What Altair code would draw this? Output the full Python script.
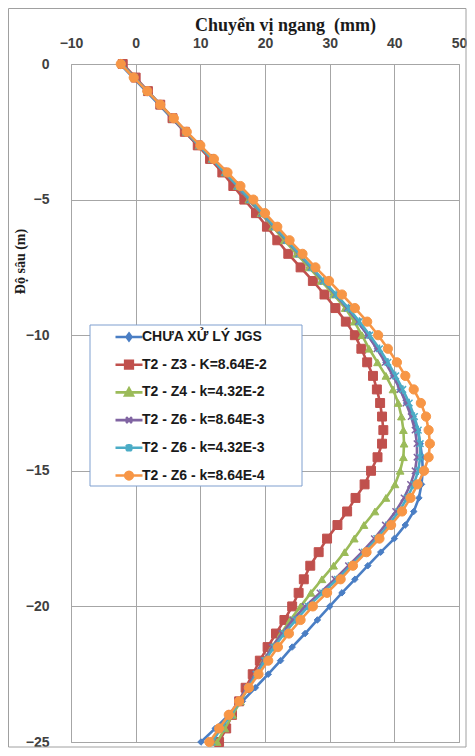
import altair as alt
import pandas as pd

# ---------------- data ----------------
depth = [0, -0.5, -1, -1.5, -2, -2.5, -3, -3.5, -4, -4.5, -5, -5.5, -6, -6.5, -7, -7.5,
         -8, -8.5, -9, -9.5, -10, -10.5, -11, -11.5, -12, -12.5, -13, -13.5, -14, -14.5,
         -15, -15.5, -16, -16.5, -17, -17.5, -18, -18.5, -19, -19.5, -20, -20.5, -21,
         -21.5, -22, -22.5, -23, -23.5, -24, -24.5, -25]

names = ["CHƯA XỬ LÝ JGS", "T2 - Z3 - K=8.64E-2", "T2 - Z4 - k=4.32E-2",
         "T2 - Z6 - k=8.64E-3", "T2 - Z6 - k=4.32E-3", "T2 - Z6 - k=8.64E-4"]

blue = [-2.4, -0.4, 1.6, 3.6, 5.6, 7.6, 9.6, 11.6, 13.6, 15.5, 17.4, 19.3, 21.2, 23.1, 25.0, 26.9,
        28.8, 30.7, 32.6, 34.3, 35.9, 37.4, 38.7, 39.9, 40.9, 41.9, 42.9, 43.6, 44.0, 44.3,
        44.4, 44.2, 43.8, 43.0, 41.7, 40.0, 37.9, 35.9, 33.9, 31.9, 30.0, 28.1, 26.2,
        24.2, 22.4, 20.5, 18.5, 16.5, 14.4, 12.3, 10.1]
red = [-2.0, 0.0, 1.9, 3.8, 5.7, 7.6, 9.6, 11.5, 13.4, 15.1, 16.8, 18.6, 20.3, 21.9, 23.6, 25.5,
       27.4, 29.2, 30.9, 32.5, 33.9, 34.9, 35.8, 36.7, 37.3, 37.8, 38.1, 38.3, 38.1, 37.4,
       36.4, 35.4, 34.0, 32.7, 31.2, 29.6, 28.3, 27.0, 26.0, 25.2, 24.2, 23.0, 21.7,
       20.4, 19.2, 18.1, 17.0, 16.0, 14.9, 14.0, 12.9]
green = [-2.2, -0.2, 1.8, 3.8, 5.8, 7.8, 9.8, 11.8, 13.8, 15.7, 17.5, 19.4, 21.2, 23.0, 24.9, 26.8,
         28.7, 30.6, 32.4, 33.8, 35.0, 36.1, 37.4, 38.7, 39.8, 40.6, 41.1, 41.4, 41.5, 41.4,
         40.9, 40.1, 38.7, 37.0, 35.3, 33.8, 32.3, 30.6, 28.8, 27.1, 25.5, 23.9, 22.5,
         21.1, 19.8, 18.6, 17.4, 16.2, 15.0, 13.8, 12.6]
purple = [-2.2, -0.2, 1.8, 3.8, 5.8, 7.8, 9.8, 11.8, 13.8, 15.7, 17.6, 19.5, 21.4, 23.3, 25.2, 27.1,
          29.0, 30.9, 32.7, 34.4, 35.9, 37.3, 38.6, 39.8, 40.9, 41.8, 42.6, 43.2, 43.5, 43.5,
          43.2, 42.5, 41.5, 40.2, 38.6, 36.9, 35.0, 32.9, 30.8, 28.5, 26.2, 24.3, 22.6,
          21.1, 19.8, 18.5, 17.2, 15.9, 14.5, 13.0, 11.6]
cyan = [-2.2, -0.2, 1.8, 3.8, 5.8, 7.8, 9.8, 11.8, 13.8, 15.8, 17.7, 19.6, 21.5, 23.4, 25.3, 27.2,
        29.1, 31.0, 32.9, 34.6, 36.2, 37.7, 39.0, 40.2, 41.3, 42.3, 43.1, 43.7, 44.0, 44.0,
        43.7, 43.0, 42.0, 40.7, 39.1, 37.3, 35.4, 33.3, 31.2, 28.9, 26.7, 24.8, 23.0,
        21.4, 20.0, 18.7, 17.4, 16.1, 14.7, 13.2, 11.8]
orange = [-2.3, -0.3, 1.8, 3.8, 5.9, 7.9, 10.0, 12.1, 14.2, 16.2, 18.2, 20.0, 21.9, 23.8, 25.8, 27.8,
          29.9, 31.9, 33.9, 35.8, 37.5, 39.0, 40.4, 41.7, 43.0, 44.1, 44.9, 45.3, 45.5, 45.3,
          44.6, 43.6, 42.5, 41.2, 39.5, 37.7, 35.7, 33.6, 31.7, 29.6, 27.4, 25.5, 23.7,
          22.0, 20.5, 19.0, 17.5, 16.0, 14.4, 12.9, 11.4]

series_values = [blue, red, green, purple, cyan, orange]

x_ticks = [-10, 0, 10, 20, 30, 40, 50]
y_ticks = [0, -5, -10, -15, -20, -25]

# ---------------- styles ----------------
colors = ["#4A7EC4", "#C0504D", "#9BBB59", "#8064A2", "#4BACC6", "#F79646"]
marker_shapes = ["diamond", "square", "triangle-up",
                 "M-1,-1L1,1M-1,1L1,-1",
                 "M-1,-1L1,1M-1,1L1,-1M0,-1.3L0,1.3",
                 "circle"]
marker_sizes = [42, 80, 60, 40, 44, 85]
marker_filled = [True, True, True, False, False, True]
legend_paths = [
    "M-3,0L3,0M0,-0.75L0.55,0L0,0.75L-0.55,0Z",
    "M-3,0L3,0M-0.85,-0.85L0.85,-0.85L0.85,0.85L-0.85,0.85Z",
    "M-3,0L3,0M0,-0.9L0.85,0.65L-0.85,0.65Z",
    "M-3,0L3,0M-0.65,-0.65L0.65,0.65M-0.65,0.65L0.65,-0.65",
    "M-3,0L3,0M-0.65,-0.65L0.65,0.65M-0.65,0.65L0.65,-0.65M0,-0.85L0,0.85",
    "M-3,0L3,0M0.85,0A0.85,0.85,0,1,1,-0.85,0A0.85,0.85,0,1,1,0.85,0Z",
]

rows = []
for name, vals in zip(names, series_values):
    for i, (d, v) in enumerate(zip(depth, vals)):
        rows.append({"series": name, "i": i, "depth": d, "disp": v})
df = pd.DataFrame(rows)

label_font = "Liberation Sans"
title_font = "Liberation Serif"

x_enc = alt.X(
    "disp:Q",
    scale=alt.Scale(domain=[-10, 50], nice=False, zero=False),
    axis=alt.Axis(
        orient="top", values=x_ticks, title="Chuyển vị ngang\u00a0 (mm)",
        titleFont=title_font, titleFontSize=18, titleFontWeight="bold", titleColor="#1a1a1a",
        titleX=214, titleY=-39, titleBaseline="middle", titleAlign="center",
        labelFont=label_font, labelFontSize=14, labelFontWeight="bold", labelColor="#404040",
        labelPadding=14, labelFlush=False, labelOverlap=False, ticks=False, domain=False,
        grid=True, gridColor="#A6A6A6", gridWidth=1,
    ),
)
y_enc = alt.Y(
    "depth:Q",
    scale=alt.Scale(domain=[-25, 0], nice=False, zero=False),
    axis=alt.Axis(
        values=y_ticks, title="Độ sâu (m)",
        titleFont=title_font, titleFontSize=14, titleFontWeight="bold", titleColor="#1a1a1a",
        titleX=-51, titleY=197, titleBaseline="middle", titleAlign="center", titleAngle=270,
        labelFont=label_font, labelFontSize=14, labelFontWeight="bold", labelColor="#404040",
        labelPadding=22, labelOverlap=False, ticks=False, domain=False,
        grid=True, gridColor="#A6A6A6", gridWidth=1,
    ),
)

base = alt.Chart(df)
one = alt.Data(values=[{}])

frame = alt.Chart(one).mark_rect(fillOpacity=0, stroke="#A0A0A0", strokeWidth=1, clip=False).encode(
    x=alt.value(-62.5), x2=alt.value(395), y=alt.value(-55.5), y2=alt.value(683)
)

layers = [frame]
for k, name in enumerate(names):
    sub = base.transform_filter(alt.datum.series == name)
    line = sub.mark_line(color=colors[k], strokeWidth=2.6).encode(
        x=x_enc, y=y_enc, order=alt.Order("i:Q")
    )
    if marker_filled[k]:
        pts = sub.mark_point(shape=marker_shapes[k], filled=True, fill=colors[k], stroke=colors[k],
                             strokeWidth=1, size=marker_sizes[k], opacity=1)
    else:
        pts = sub.mark_point(shape=marker_shapes[k], filled=False, stroke=colors[k],
                             strokeWidth=1.5, size=marker_sizes[k], opacity=1)
    pts = pts.encode(x=x_enc, y=y_enc)
    layers += [line, pts]

legend_box = alt.Chart(one).mark_rect(fill="white", stroke="#7F9FCF", strokeWidth=1).encode(
    x=alt.value(19), x2=alt.value(231), y=alt.value(261), y2=alt.value(422)
)
layers.append(legend_box)

leg_cfg = alt.Legend(
    title=None, orient="none", legendX=19, legendY=265, padding=0,
    symbolSize=81, symbolStrokeWidth=2.6, symbolOpacity=1, symbolOffset=32,
    labelOffset=6, labelFont=label_font, labelFontSize=14, labelFontWeight="bold",
    labelColor="#1a1a1a", labelLimit=300,
    rowPadding=11.7, clipHeight=16,
)
legend_layer = base.transform_filter("datum.i == 0").mark_point(
    opacity=0, filled=True, strokeWidth=2.6, size=81
).encode(
    x=x_enc, y=y_enc,
    shape=alt.Shape("series:N", scale=alt.Scale(domain=names, range=legend_paths), legend=leg_cfg),
    fill=alt.Fill("series:N", scale=alt.Scale(domain=names, range=colors), legend=leg_cfg),
    stroke=alt.Stroke("series:N", scale=alt.Scale(domain=names, range=colors), legend=leg_cfg),
)
layers.append(legend_layer)

chart = alt.layer(*layers).properties(
    width=388, height=678,
    autosize=alt.AutoSizeParams(type="none"),
    padding={"left": 63, "top": 56, "right": 8, "bottom": 6},
    background="white",
).configure_view(stroke="#A6A6A6", strokeWidth=1)

chart.save("out.html", embed_options={"renderer": "svg", "actions": False})
